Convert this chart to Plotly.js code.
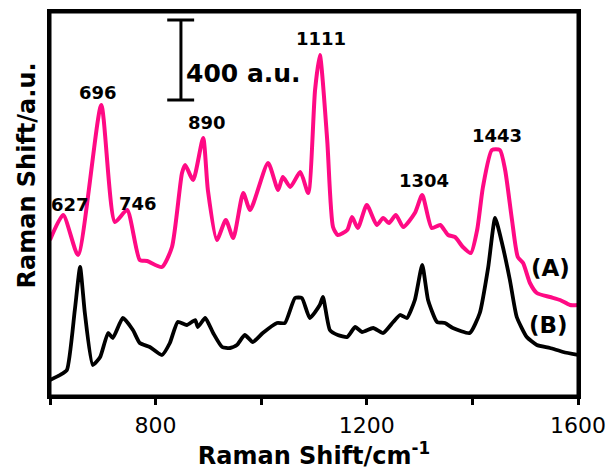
<!DOCTYPE html>
<html>
<head>
<meta charset="utf-8">
<script src="https://cdn.plot.ly/plotly-3.0.1.min.js"></script>
<style>html,body{margin:0;padding:0;background:#fff;}#chart{width:611px;height:470px;}</style>
</head>
<body>
<div id="chart"></div>
<script>
// Spectrum (A) - pink
const shiftA = [600, 625, 653, 697, 723, 746, 770, 784, 812, 831, 850, 856, 871, 890, 899, 916, 933, 947, 966, 979, 1013, 1032, 1041, 1055, 1074, 1089, 1102, 1111, 1125, 1136, 1145, 1163, 1172, 1183, 1200, 1219, 1231, 1242, 1255, 1269, 1291, 1305, 1323, 1339, 1354, 1367, 1382, 1397, 1409, 1420, 1437, 1452, 1462, 1475, 1486, 1496, 1509, 1522, 1547, 1566, 1585, 1600];
const intensityA = [780, 905, 705, 1455, 870, 930, 680, 675, 645, 745, 1115, 1155, 1080, 1290, 1030, 780, 880, 790, 1015, 930, 1165, 1030, 1095, 1045, 1120, 1015, 1530, 1705, 1280, 845, 805, 830, 895, 840, 955, 855, 890, 865, 905, 845, 915, 1005, 840, 855, 805, 795, 745, 715, 830, 1045, 1230, 1230, 1130, 880, 695, 665, 565, 515, 495, 480, 455, 455];
// Spectrum (B) - black
const shiftB = [600, 619, 632, 647, 657, 666, 681, 695, 710, 719, 738, 757, 770, 789, 812, 827, 842, 859, 875, 880, 894, 909, 926, 941, 954, 969, 984, 1003, 1030, 1045, 1064, 1077, 1092, 1111, 1117, 1130, 1145, 1163, 1178, 1191, 1212, 1231, 1250, 1263, 1276, 1291, 1305, 1316, 1333, 1348, 1363, 1395, 1414, 1430, 1443, 1456, 1471, 1484, 1503, 1522, 1547, 1572, 1600];
const intensityB = [80, 105, 130, 430, 645, 415, 155, 195, 315, 290, 390, 330, 265, 245, 205, 265, 370, 355, 380, 345, 390, 315, 245, 240, 255, 305, 270, 315, 365, 365, 490, 490, 390, 455, 495, 330, 305, 295, 345, 320, 340, 315, 370, 405, 390, 480, 655, 480, 370, 365, 340, 315, 415, 645, 890, 765, 580, 395, 295, 255, 240, 220, 205];
// Peak labels
const peakText = ["627", "696", "746", "890", "1111", "1304", "1443"];
const peakX = [638, 691, 767, 897, 1113, 1308, 1447];
const peakY = [960, 1520, 965, 1370, 1790, 1080, 1305];
// Tick labels
const tickVals = [800, 1200, 1600];
const tickText = ["800", "1200", "1600"];
const minorTickVals = [600, 1000, 1400];

const FONT = "DejaVu Sans, Arial, sans-serif";

const traces = [
  {x: shiftB, y: intensityB, type: "scatter", mode: "lines", name: "(B)",
   line: {color: "#000000", width: 3.8, shape: "spline", smoothing: 0.5}},
  {x: shiftA, y: intensityA, type: "scatter", mode: "lines", name: "(A)",
   line: {color: "#ff0a84", width: 4, shape: "spline", smoothing: 0.6}}
];

const annotations = peakText.map((t, i) => ({
  x: peakX[i], y: peakY[i], xref: "x", yref: "y", text: "<b>" + t + "</b>",
  showarrow: false, font: {family: FONT, size: 18, color: "#000"}
}));
annotations.push({x: 966, y: 1615, xref: "x", yref: "y", text: "<b>400 a.u.</b>", showarrow: false,
  font: {family: FONT, size: 25, color: "#000"}});
annotations.push({x: 1547, y: 640, xref: "x", yref: "y", text: "<b>(A)</b>", showarrow: false,
  font: {family: FONT, size: 23, color: "#000"}});
annotations.push({x: 1545, y: 355, xref: "x", yref: "y", text: "<b>(B)</b>", showarrow: false,
  font: {family: FONT, size: 23, color: "#000"}});
// Y axis title (placed as rotated annotation to match the reference position)
annotations.push({x: -0.043, y: 0.575, xref: "paper", yref: "paper", text: "<b>Raman Shift/a.u.</b>",
  textangle: -90, showarrow: false, xanchor: "center", yanchor: "middle",
  font: {family: FONT, size: 24, color: "#000"}});

const shapes = [
  {type: "rect", xref: "paper", yref: "paper", x0: 0, x1: 1, y0: 0, y1: 1, line: {color: "#000", width: 3}, layer: "above"},
  {type: "line", xref: "x", yref: "y", x0: 848, x1: 848, y0: 1480, y1: 1880, line: {color: "#000", width: 3}},
  {type: "line", xref: "x", yref: "y", x0: 822, x1: 873, y0: 1880, y1: 1880, line: {color: "#000", width: 3}},
  {type: "line", xref: "x", yref: "y", x0: 822, x1: 873, y0: 1480, y1: 1480, line: {color: "#000", width: 3}}
];

const layout = {
  width: 611, height: 470,
  margin: {l: 50, r: 33, t: 12, b: 74},
  paper_bgcolor: "#fff", plot_bgcolor: "#fff",
  showlegend: false,
  xaxis: {
    range: [600, 1600], tickmode: "array", tickvals: tickVals, ticktext: tickText,
    ticks: "outside", ticklen: 6, tickwidth: 3, tickcolor: "#000",
    minor: {tickmode: "array", tickvals: minorTickVals, ticks: "outside", ticklen: 6, tickwidth: 3, tickcolor: "#000", showgrid: false},
    showline: true, linewidth: 3, linecolor: "#000", mirror: true,
    showgrid: false, zeroline: false, ticklabelstandoff: 2,
    tickfont: {family: FONT, size: 22, color: "#000"},
    title: {text: "<b>Raman Shift/cm<sup>-1</sup></b>", font: {family: FONT, size: 24, color: "#000"}, standoff: 4}
  },
  yaxis: {
    range: [0, 1920], showticklabels: false, ticks: "",
    showline: true, linewidth: 3, linecolor: "#000", mirror: true,
    showgrid: false, zeroline: false
  },
  annotations: annotations,
  shapes: shapes
};

Plotly.newPlot("chart", traces, layout, {displayModeBar: false, staticPlot: true});
</script>
</body>
</html>
